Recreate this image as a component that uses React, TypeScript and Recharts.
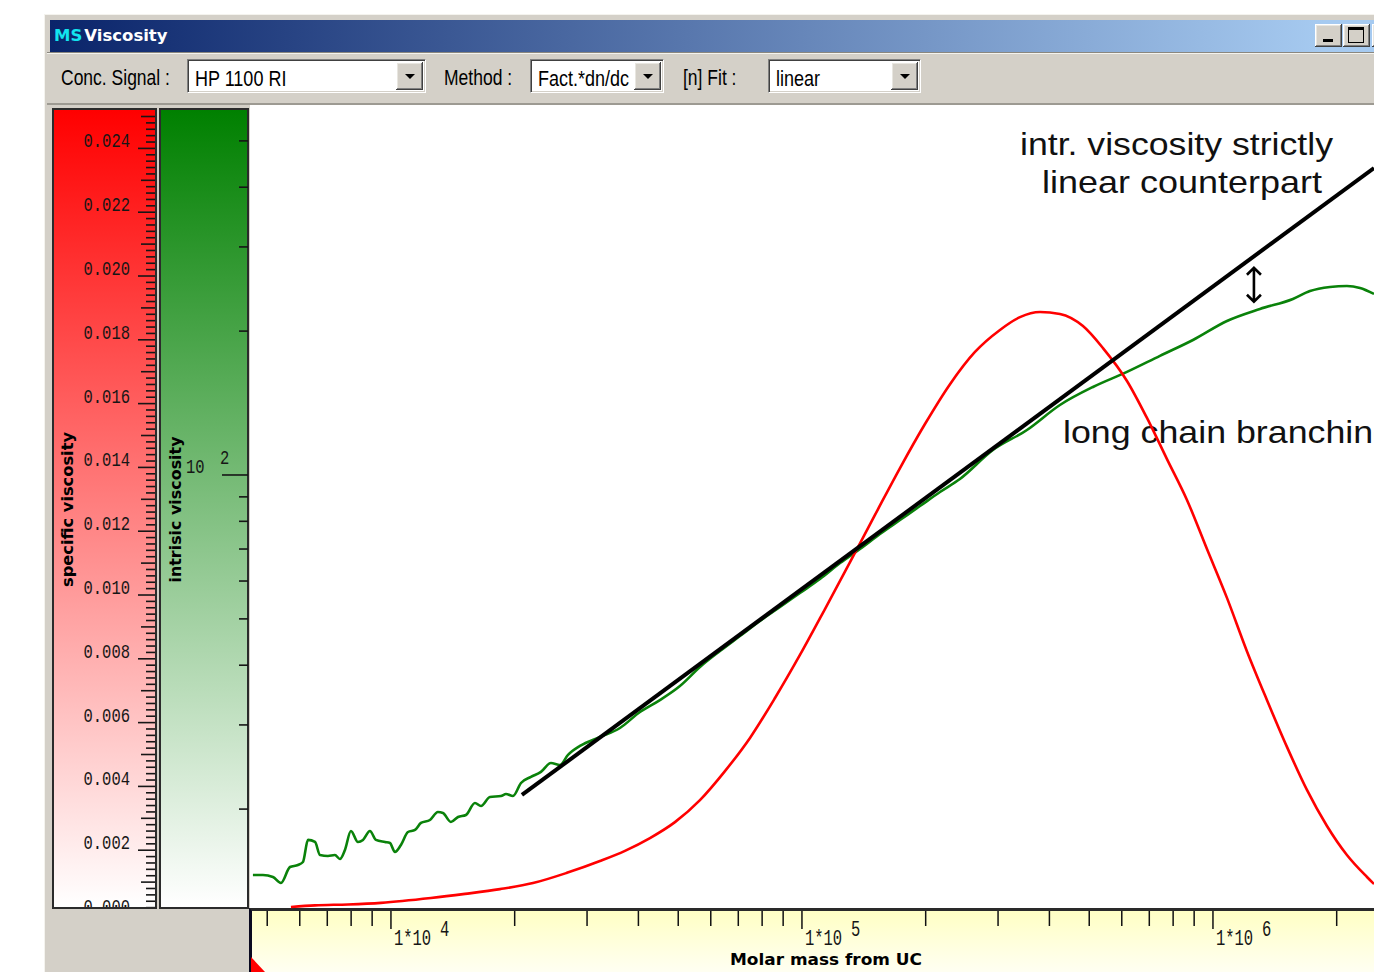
import React from 'react';
import { ComposedChart, Line, XAxis, YAxis, ReferenceDot, Customized } from 'recharts';

// Specific viscosity (red trace) against molar mass from UC [g/mol]
const svMass = [5710, 6535, 7860, 9455, 12510, 15140, 18420, 22160, 26800, 32250, 37100, 42680, 49090, 56470, 64960, 74740, 85970, 98880, 113750, 130900, 150550, 173200, 199200, 229200, 263600, 303200, 339200, 379500, 424300, 482800, 540000, 617700, 690900, 772900, 864500, 967000, 1081600, 1209500, 1353000, 1513600, 1693000, 1894000, 2118000, 2370000, 2465000];
const svValue = [0.00022, 0.00027, 0.0003, 0.00035, 0.0005, 0.00063, 0.00078, 0.00097, 0.00129, 0.00166, 0.00198, 0.00238, 0.00288, 0.00357, 0.00448, 0.00552, 0.00677, 0.00812, 0.00956, 0.01103, 0.01251, 0.01398, 0.01536, 0.01661, 0.01762, 0.01831, 0.01871, 0.01887, 0.01881, 0.01843, 0.01774, 0.01671, 0.01555, 0.01426, 0.01298, 0.01144, 0.00991, 0.00824, 0.00671, 0.00524, 0.00389, 0.00276, 0.00185, 0.00116, 0.00094];

// Intrinsic viscosity (green trace) against the same molar mass axis
const ivMass = [4615, 4882, 5163, 5400, 5680, 5939, 6108, 6282, 6535, 6720, 7026, 7306, 7514, 7728, 7992, 8312, 8549, 8890, 9194, 9670, 9945, 10226, 10575, 11000, 11440, 11830, 12440, 13010, 13380, 13990, 14560, 15220, 16010, 16560, 17410, 18520, 19050, 19810, 20720, 21910, 23170, 24500, 25780, 26960, 28830, 32250, 36070, 40350, 45120, 50480, 56470, 63170, 70660, 79040, 88430, 98880, 110600, 123800, 138400, 154800, 173200, 193700, 216700, 242300, 291500, 352700, 424300, 510500, 617700, 743000, 894000, 1081600, 1301000, 1565000, 1722000, 1926000, 2118000, 2279000, 2465000];
const ivValue = [14.56, 14.56, 14.42, 14.01, 15.13, 15.28, 15.5, 17.24, 17.07, 16.03, 15.96, 16.03, 15.73, 16.43, 18.0, 17.07, 17.24, 18.0, 17.24, 17.07, 16.99, 16.27, 16.83, 17.91, 18.09, 18.71, 18.98, 19.72, 19.63, 18.8, 19.25, 19.44, 20.6, 20.3, 21.2, 21.3, 21.51, 21.3, 22.68, 23.35, 23.92, 24.97, 24.74, 25.96, 27.11, 28.31, 29.56, 31.93, 33.82, 36.19, 39.66, 42.83, 46.04, 49.51, 52.95, 56.64, 60.59, 65.43, 70.0, 75.27, 80.52, 86.11, 92.13, 98.08, 112.8, 124.2, 140.1, 152.8, 164.3, 177.5, 191.6, 210.0, 222.5, 233.5, 242.6, 247.4, 248.6, 246.2, 239.2];

// Strictly linear counterpart: straight line in the log-log plot
const fitMass = [20830, 2465000];
const fitValue = [21.41, 438.8];

// Position of the double arrow between the fit and the measured trace
const gapMass = 1258000;
const gapValue = 250;

// Axis ticks
const massTicks = [5000, 6000, 7000, 8000, 9000, 10000, 20000, 30000, 40000, 50000, 60000, 70000, 80000, 90000, 100000, 200000, 300000, 400000, 500000, 600000, 700000, 800000, 900000, 1000000, 2000000];
const ivTicks = [20, 30, 40, 50, 60, 70, 80, 90, 100, 200, 300, 400, 500];
const svMinorStep = 0.0002;
const svTickCount = 126;
const svTicks = Array.from({ length: svTickCount }, (_, i) => Number((i * svMinorStep).toFixed(4)));

// Visible axis ranges
const massDomain = [4540, 2465000];
const svDomain = [0.000157, 0.025204];
const ivDomain = [12.36, 580.2];

const svPoints = svMass.map((m, i) => ({ m, sv: svValue[i] }));
const ivPoints = ivMass.map((m, i) => ({ m, iv: ivValue[i] }));
const fitPoints = fitMass.map((m, i) => ({ m, iv: fitValue[i] }));

const MONO = '"Liberation Mono", "DejaVu Sans Mono", monospace';
const SANS = '"Liberation Sans", Arial, sans-serif';
const VERD = '"DejaVu Sans", Verdana, sans-serif';
const INK = '#161616';

function SvTick(props: any) {
  const { y, payload } = props;
  const v: number = payload.value;
  const step = Math.round(v / svMinorStep);
  const major = step % 10 === 0;
  const mid = step % 5 === 0;
  const len = major ? 17 : mid ? 14 : 9;
  return (
    <g clipPath="url(#sv-panel-clip)">
      <line x1={105 - len} x2={105} y1={y} y2={y} stroke={INK} strokeWidth={1.6} />
      {major && (
        <text transform={`translate(80,${y - 1}) scale(1,1.35)`} textAnchor="end" fontFamily={MONO} fontSize={15.5} fill={INK}>
          {v.toFixed(3)}
        </text>
      )}
    </g>
  );
}

function IvTick(props: any) {
  const { y, payload } = props;
  const v: number = payload.value;
  const exp = Math.log10(v);
  const decade = Math.abs(exp - Math.round(exp)) < 1e-9;
  return (
    <g>
      <line x1={decade ? 172 : 189} x2={198} y1={y} y2={y} stroke={INK} strokeWidth={1.6} />
      {decade && (
        <>
          <text transform={`translate(136,${y - 2}) scale(1,1.35)`} fontFamily={MONO} fontSize={15.5} fill={INK}>10</text>
          <text transform={`translate(170,${y - 11}) scale(1,1.35)`} fontFamily={MONO} fontSize={15.5} fill={INK}>{Math.round(exp)}</text>
        </>
      )}
    </g>
  );
}

function MassTick(props: any) {
  const { x, y, payload } = props;
  const v: number = payload.value;
  const exp = Math.log10(v);
  const decade = Math.abs(exp - Math.round(exp)) < 1e-9;
  return (
    <g>
      <line x1={x} x2={x} y1={y + 2} y2={y + (decade ? 20 : 17)} stroke="#111" strokeWidth={1.5} />
      {decade && (
        <>
          <text transform={`translate(${x + 3},${y + 36}) scale(1,1.4)`} fontFamily={MONO} fontSize={15.5} fill={INK}>1*10</text>
          <text transform={`translate(${x + 49},${y + 27}) scale(1,1.4)`} fontFamily={MONO} fontSize={15.5} fill={INK}>{Math.round(exp)}</text>
        </>
      )}
    </g>
  );
}

const massTitle = (props: any) => {
  const vb = props.viewBox || { x: 200, y: 805, width: 1124, height: 63 };
  return (
    <text x={vb.x + 576} y={vb.y + 56} textAnchor="middle" fontFamily={VERD} fontWeight="bold" fontSize={15.5} textLength={192} lengthAdjust="spacingAndGlyphs" fill="#000">
      Molar mass from UC
    </text>
  );
};

const svTitle = (props: any) => {
  const vb = props.viewBox || { y: 6, height: 799 };
  const cy = vb.y + vb.height / 2;
  return (
    <text x={18} y={cy} transform={`rotate(-90,18,${cy})`} textAnchor="middle" dominantBaseline="central" fontFamily={VERD} fontWeight="bold" fontSize={15.5} textLength={155} lengthAdjust="spacingAndGlyphs" fill="#000">
      specific viscosity
    </text>
  );
};

const ivTitle = (props: any) => {
  const vb = props.viewBox || { y: 6, height: 799 };
  const cy = vb.y + vb.height / 2;
  return (
    <text x={126} y={cy} transform={`rotate(-90,126,${cy})`} textAnchor="middle" dominantBaseline="central" fontFamily={VERD} fontWeight="bold" fontSize={15.5} textLength={146} lengthAdjust="spacingAndGlyphs" fill="#000">
      intrisic viscosity
    </text>
  );
};

function GapArrow(props: any) {
  const { cx, cy } = props;
  const h = 17;
  const d = `M${cx},${cy - h} V${cy + h} M${cx - 7},${cy - h + 7} L${cx},${cy - h} L${cx + 7},${cy - h + 7} M${cx - 7},${cy + h - 7} L${cx},${cy + h} L${cx + 7},${cy + h - 7}`;
  return <path d={d} stroke="#000" strokeWidth={2.6} fill="none" />;
}

function PanelClip() {
  return (
    <defs>
      <clipPath id="sv-panel-clip">
        <rect x={4} y={6} width={103} height={797} />
      </clipPath>
    </defs>
  );
}

function Notes() {
  return (
    <g fontFamily={SANS} fontSize={32} fill="#111">
      <text x={970} y={51} textLength={313} lengthAdjust="spacingAndGlyphs">intr. viscosity strictly</text>
      <text x={992} y={89} textLength={280} lengthAdjust="spacingAndGlyphs">linear counterpart</text>
      <text x={1013} y={339} textLength={330} lengthAdjust="spacingAndGlyphs">long chain branching</text>
    </g>
  );
}

function UiText({ x, baseline, size = 17.5, sy = 1.28, color = '#000', weight = 400, family = SANS, children }: any) {
  const top = baseline - 0.8465 * size * sy;
  return (
    <span
      style={{
        position: 'absolute', left: x, top, fontFamily: family, fontSize: size, fontWeight: weight,
        lineHeight: `${size}px`, color, whiteSpace: 'nowrap', transform: `scaleY(${sy})`, transformOrigin: 'left top',
      }}
    >
      {children}
    </span>
  );
}

const raised = 'inset -1px -1px 0 #404040, inset 1px 1px 0 #ffffff, inset -2px -2px 0 #808080, inset 2px 2px 0 #e8e6e0';

function Combo({ left, width, text }: any) {
  return (
    <div
      style={{
        position: 'absolute', left, top: 59, width, height: 34, boxSizing: 'border-box', background: '#fff', overflow: 'hidden',
        borderTop: '1px solid #808080', borderLeft: '1px solid #808080', borderBottom: '1px solid #ffffff', borderRight: '1px solid #ffffff',
        boxShadow: 'inset 1px 1px 0 #404040, inset -1px -1px 0 #d4d0c8',
      }}
    >
      <UiText x={7} baseline={26} size={18} sy={1.25}>{text}</UiText>
      <div style={{ position: 'absolute', right: 2, top: 2, width: 27, height: 28, background: '#d4d0c8', boxShadow: raised }}>
        <div style={{ position: 'absolute', left: 9, top: 12, width: 0, height: 0, borderLeft: '5px solid transparent', borderRight: '5px solid transparent', borderTop: '5px solid #000' }} />
      </div>
    </div>
  );
}

export default function App() {
  return (
    <div style={{ position: 'fixed', left: 0, top: 0, width: 1374, height: 972, overflow: 'hidden', background: '#fff' }}>
      {/* window frame */}
      <div style={{ position: 'absolute', left: 44, top: 14, width: 1360, height: 980, background: '#d4d0c8', boxShadow: 'inset 1px 1px 0 #f4f3ee, inset 2px 2px 0 #d4d0c8' }} />
      {/* title bar */}
      <div style={{ position: 'absolute', left: 50, top: 20, width: 1340, height: 32, background: 'linear-gradient(to right, #0a246a 0%, #a6caf0 95%)' }} />
      <span style={{ position: 'absolute', left: 54, top: 26.5, fontFamily: VERD, fontWeight: 'bold', fontSize: 16.5, lineHeight: '17px', whiteSpace: 'nowrap' }}>
        <span style={{ color: '#12e4ef' }}>MS</span>
        <span style={{ color: '#fff', marginLeft: 2 }}>Viscosity</span>
      </span>
      <div style={{ position: 'absolute', left: 1315, top: 24, width: 27, height: 23, background: '#d4d0c8', boxShadow: raised }}>
        <div style={{ position: 'absolute', left: 8, top: 15, width: 10, height: 3, background: '#000' }} />
      </div>
      <div style={{ position: 'absolute', left: 1343, top: 24, width: 27, height: 23, background: '#d4d0c8', boxShadow: raised }}>
        <div style={{ position: 'absolute', left: 5, top: 3, width: 16, height: 16, boxSizing: 'border-box', border: '1px solid #000', borderTopWidth: 3 }} />
      </div>
      <div style={{ position: 'absolute', left: 1372, top: 24, width: 27, height: 23, background: '#d4d0c8', boxShadow: raised }} />

      {/* toolbar */}
      <div style={{ position: 'absolute', left: 47, top: 52, width: 1340, height: 1, background: '#8a877f' }} />
      <div style={{ position: 'absolute', left: 47, top: 53, width: 1340, height: 1, background: '#f4f3ee' }} />
      <UiText x={61} baseline={86}>Conc. Signal :</UiText>
      <Combo left={187} width={239} text="HP 1100 RI" />
      <UiText x={444} baseline={86}>Method :</UiText>
      <Combo left={530} width={134} text="Fact.*dn/dc" />
      <UiText x={683} baseline={86}>[n] Fit :</UiText>
      <Combo left={768} width={153} text="linear" />
      <div style={{ position: 'absolute', left: 47, top: 103, width: 1340, height: 2, background: '#9d9a92' }} />

      {/* plot background */}
      <div style={{ position: 'absolute', left: 250, top: 105, width: 1130, height: 804, background: '#fff' }} />

      {/* axis panels */}
      <div style={{ position: 'absolute', left: 52, top: 108, width: 105, height: 801, boxSizing: 'border-box', border: '2px solid #2b2b2b', background: 'linear-gradient(#ff0000, #ffffff)' }} />
      <div style={{ position: 'absolute', left: 159, top: 108, width: 90, height: 801, boxSizing: 'border-box', border: '2px solid #2b2b2b', background: 'linear-gradient(#008000, #ffffff)' }} />

      {/* molar mass axis band */}
      <div style={{ position: 'absolute', left: 249, top: 908, width: 1130, height: 64, boxSizing: 'border-box', borderTop: '3px solid #2a2a2a', borderLeft: '3px solid #0a0a20', background: 'linear-gradient(#ffffc4, #fffff2)' }} />
      <svg style={{ position: 'absolute', left: 251, top: 957 }} width={15} height={15}>
        <polygon points="0,0 14,15 0,15" fill="#ff0000" />
      </svg>

      {/* chart */}
      <div style={{ position: 'absolute', left: 50, top: 104 }}>
        <ComposedChart width={1324} height={868} margin={{ top: 6, right: 0, bottom: 0, left: 0 }}>
          <Customized component={<PanelClip />} />
          <XAxis
            xAxisId="mass" dataKey="m" type="number" scale="log" domain={massDomain} allowDataOverflow
            ticks={massTicks} interval={0} tick={<MassTick />} tickLine={false} axisLine={false}
            tickSize={0} tickMargin={0} height={63} label={{ content: massTitle }}
          />
          <YAxis
            yAxisId="iv" orientation="left" type="number" scale="log" domain={ivDomain} allowDataOverflow
            ticks={ivTicks} interval={0} tick={<IvTick />} tickLine={false} axisLine={false}
            tickSize={0} tickMargin={0} width={92} label={{ content: ivTitle }}
          />
          <YAxis
            yAxisId="sv" orientation="left" type="number" domain={svDomain} allowDataOverflow
            ticks={svTicks} interval={0} tick={<SvTick />} tickLine={false} axisLine={false}
            tickSize={0} tickMargin={0} width={108} label={{ content: svTitle }}
          />
          <Line xAxisId="mass" yAxisId="iv" data={ivPoints} dataKey="iv" type="monotoneX" stroke="#0a820a" strokeWidth={2.6} dot={false} activeDot={false} isAnimationActive={false} />
          <Line xAxisId="mass" yAxisId="sv" data={svPoints} dataKey="sv" type="monotoneX" stroke="#ff0000" strokeWidth={2.6} dot={false} activeDot={false} isAnimationActive={false} />
          <Line xAxisId="mass" yAxisId="iv" data={fitPoints} dataKey="iv" type="linear" stroke="#000" strokeWidth={4} dot={false} activeDot={false} isAnimationActive={false} />
          <ReferenceDot xAxisId="mass" yAxisId="iv" x={gapMass} y={gapValue} r={1} shape={(p: any) => <GapArrow {...p} />} />
          <Customized component={<Notes />} />
        </ComposedChart>
      </div>
    </div>
  );
}
